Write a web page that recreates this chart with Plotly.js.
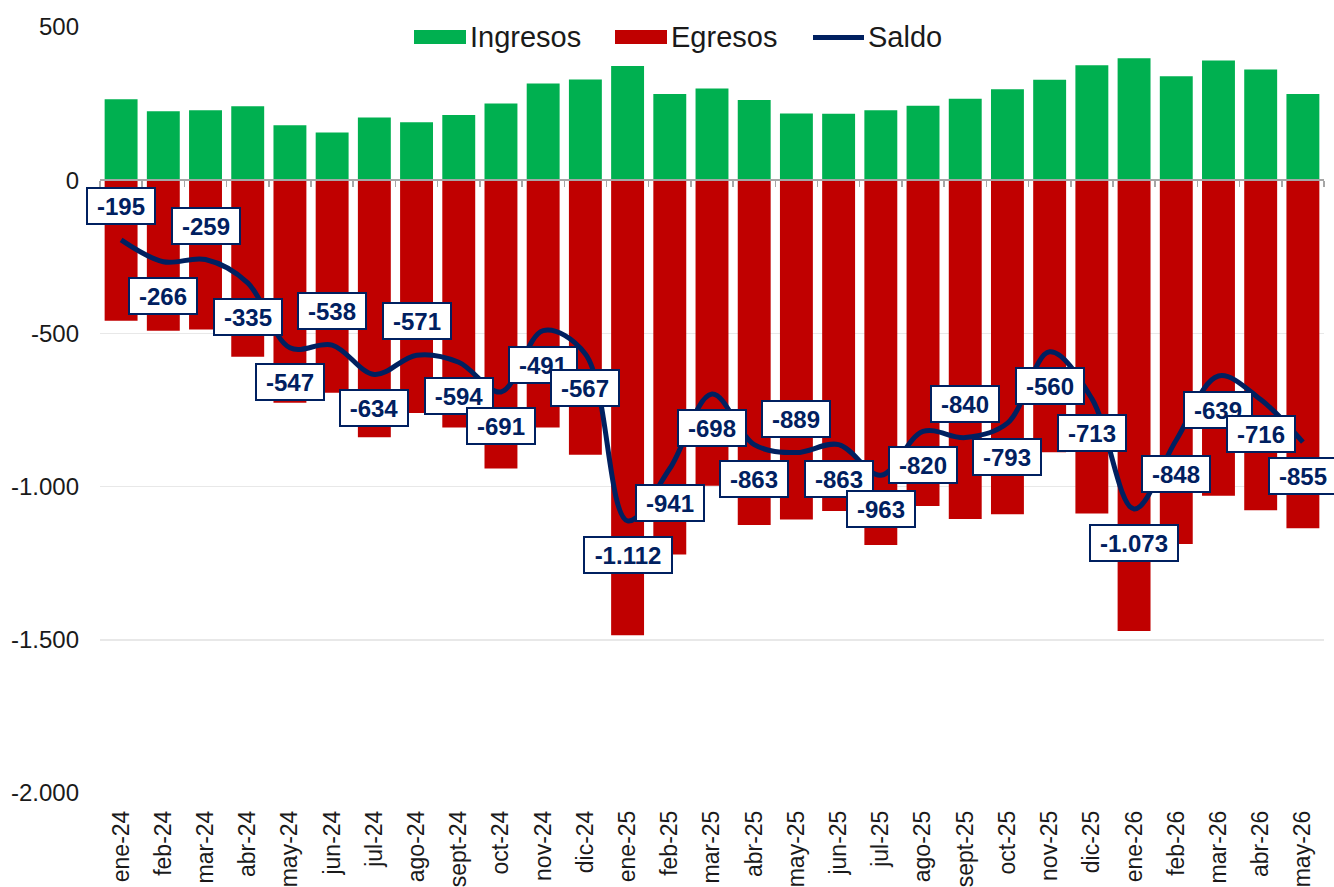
<!DOCTYPE html>
<html>
<head>
<meta charset="utf-8">
<script src="https://cdn.plot.ly/plotly-3.0.1.min.js"></script>
<style>
	html, body { margin: 0; padding: 0; background: #fff; }
	#saldo-viz { width: 1334px; height: 887px; }
</style>
</head>
<body>
<div id="saldo-viz"></div>
<script>
// Months (ene-24 .. may-26)
var meses = ['ene-24', 'feb-24', 'mar-24', 'abr-24', 'may-24', 'jun-24', 'jul-24', 'ago-24', 'sept-24', 'oct-24',
	'nov-24', 'dic-24', 'ene-25', 'feb-25', 'mar-25', 'abr-25', 'may-25', 'jun-25', 'jul-25', 'ago-25',
	'sept-25', 'oct-25', 'nov-25', 'dic-25', 'ene-26', 'feb-26', 'mar-26', 'abr-26', 'may-26'];

var ingresos = [264, 225, 228, 241, 179, 156, 205, 189, 213, 250, 316, 329, 373, 281, 299, 262, 218, 217,
	228, 243, 266, 297, 328, 375, 398, 339, 391, 361, 281];

var egresos = [-459, -491, -487, -576, -726, -694, -839, -760, -807, -941, -807, -896, -1485, -1222, -997,
	-1125, -1107, -1080, -1191, -1063, -1106, -1090, -888, -1088, -1471, -1187, -1030, -1077, -1136];

var saldo = [-195, -266, -259, -335, -547, -538, -634, -571, -594, -691, -491, -567, -1112, -941, -698,
	-863, -889, -863, -963, -820, -840, -793, -560, -713, -1073, -848, -639, -716, -855];

// label above (a) or below (b) the line
var saldoLabelPos = ['a', 'b', 'a', 'b', 'b', 'a', 'b', 'a', 'b', 'b', 'b', 'b', 'b', 'b', 'b', 'b', 'a',
	'b', 'b', 'b', 'a', 'b', 'b', 'b', 'b', 'b', 'b', 'b', 'b'];

var yTickVals = [500, 0, -500, -1000, -1500, -2000];
var yTickText = ['500', '0', '-500', '-1.000', '-1.500', '-2.000'];

var NAVY = '#002060';
var FONT = '"Liberation Sans", Arial, sans-serif';

// plot area in pixels
var ml = 100, mr = 10, mt = 27, mb = 94;
var plotW = 1334 - ml - mr, plotH = 887 - mt - mb;
function px2x(px) { return (px - ml) / plotW; }
function px2y(py) { return (887 - mb - py) / plotH; }

// 1234 -> "1.234", keeps a plain hyphen for negatives
function fmtNum(v) {
	var s = String(Math.abs(v)).replace(/\B(?=(\d{3})+(?!\d))/g, '.');
	return (v < 0 ? '-' : '') + s;
}

// rough width of bold 24px Arial text
function labelWidth(txt) {
	var w = 0;
	for (var i = 0; i < txt.length; i++) {
		var c = txt[i];
		w += (c == '-') ? 8 : (c == '.') ? 6.7 : 13.35;
	}
	return Math.round(w) + 12;
}

function saldo_viz() {
	var trace_ing = {
		x: meses,
		y: ingresos,
		type: 'bar',
		name: 'Ingresos',
		hoverinfo: 'none',
		marker: { color: '#00B050', line: { width: 0 } }
	};

	var trace_egr = {
		x: meses,
		y: egresos,
		type: 'bar',
		name: 'Egresos',
		hoverinfo: 'none',
		marker: { color: '#C00000', line: { width: 0 } }
	};

	var trace_saldo = {
		x: meses,
		y: saldo,
		xaxis: 'x2',
		type: 'scatter',
		mode: 'lines',
		name: 'Saldo',
		hoverinfo: 'none',
		line: { color: NAVY, width: 5, shape: 'spline', smoothing: 1 }
	};

	var annotations = saldo.map(function(v, i) {
		var txt = fmtNum(v);
		return {
			x: meses[i], y: v, xref: 'x', yref: 'y',
			text: '<b>' + txt + '</b>',
			showarrow: false,
			yshift: saldoLabelPos[i] == 'a' ? 34 : -34,
			width: labelWidth(txt),
			height: 28,
			valign: 'middle',
			bgcolor: '#ffffff',
			bordercolor: NAVY,
			borderwidth: 2,
			borderpad: 3,
			font: { family: FONT, size: 24, color: NAVY }
		};
	});

	// hand-made legend (wide swatches like the original)
	var shapes = [
		{ type: 'rect', xref: 'paper', yref: 'paper', x0: px2x(414), x1: px2x(466), y0: px2y(44), y1: px2y(30),
		  fillcolor: '#00B050', line: { width: 0 } },
		{ type: 'rect', xref: 'paper', yref: 'paper', x0: px2x(615), x1: px2x(667), y0: px2y(44), y1: px2y(30),
		  fillcolor: '#C00000', line: { width: 0 } },
		{ type: 'line', xref: 'paper', yref: 'paper', x0: px2x(813), x1: px2x(864), y0: px2y(37.5), y1: px2y(37.5),
		  line: { color: NAVY, width: 5 } }
	];
	var legendItems = [['Ingresos', 468], ['Egresos', 669], ['Saldo', 866]];
	legendItems.forEach(function(it) {
		annotations.push({
			x: px2x(it[1]), y: px2y(37), xref: 'paper', yref: 'paper',
			xanchor: 'left', yanchor: 'middle', showarrow: false,
			text: it[0],
			font: { family: FONT, size: 29, color: '#1A1A1A' }
		});
	});

	var data = [trace_ing, trace_egr, trace_saldo];

	var layout = {
		width: 1334,
		height: 887,
		margin: { l: ml, r: mr, t: mt, b: mb },
		paper_bgcolor: '#ffffff',
		plot_bgcolor: '#ffffff',
		barmode: 'relative',
		bargap: 0.22,
		showlegend: false,
		font: { family: FONT, color: '#1A1A1A' },
		xaxis: {
			type: 'category',
			range: [-0.5, meses.length - 0.5],
			showline: false,
			showgrid: false,
			zeroline: false,
			ticks: '',
			tickangle: -90,
			ticklabelstandoff: 12,
			automargin: false,
			tickfont: { family: FONT, size: 23, color: '#1A1A1A' }
		},
		// axis drawn at y = 0 with tick marks between months
		xaxis2: {
			type: 'category',
			overlaying: 'x',
			anchor: 'free',
			position: 0.8,
			range: [-0.5, meses.length - 0.5],
			showline: true,
			linecolor: '#A6A6A6',
			linewidth: 2,
			ticks: 'outside',
			tickson: 'boundaries',
			ticklen: 6,
			tickwidth: 1.5,
			tickcolor: '#A6A6A6',
			showticklabels: false,
			showgrid: false,
			zeroline: false,
			automargin: false
		},
		yaxis: {
			range: [-2000, 500],
			tickvals: yTickVals,
			ticktext: yTickText,
			showgrid: true,
			gridcolor: '#E8E8E8',
			gridwidth: 1.5,
			zeroline: false,
			showline: false,
			ticks: '',
			ticklabelstandoff: 20,
			automargin: false,
			tickfont: { family: FONT, size: 24, color: '#1A1A1A' }
		},
		shapes: shapes,
		annotations: annotations
	};

	Plotly.newPlot('saldo-viz', data, layout, { displayModeBar: false, staticPlot: true });
} // saldo_viz

saldo_viz();
</script>
</body>
</html>
